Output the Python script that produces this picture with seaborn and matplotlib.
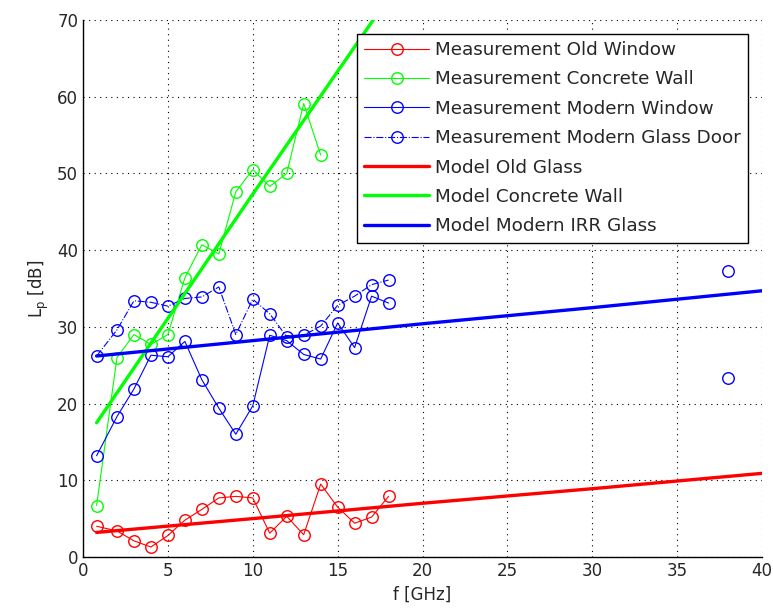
#!/usr/bin/env python3

import numpy as np
import pandas as pd
import matplotlib
matplotlib.use("Agg")
import matplotlib.pyplot as plt
import seaborn as sns

# Measured frequencies [GHz]
freq = [0.8, 2, 3, 4, 5, 6, 7, 8, 9, 10, 11, 12, 13, 14, 15, 16, 17, 18]

old_window = [4.0, 3.4, 2.1, 1.3, 2.8, 4.8, 6.2, 7.7, 7.9, 7.7, 3.1, 5.3, 2.9, 9.5,
              6.5, 4.4, 5.2, 7.9]
concrete_wall = [6.7, 26.0, 29.0, 27.7, 29.0, 36.4, 40.7, 39.5, 47.6, 50.5, 48.3,
                 50.0, 59.1, 52.4]
modern_window = [13.2, 18.3, 21.9, 26.3, 26.1, 28.1, 23.1, 19.4, 16.0, 19.7, 28.9,
                 28.2, 26.4, 25.8, 30.5, 27.3, 34.0, 33.1]
glass_door = [26.2, 29.6, 33.4, 33.2, 32.7, 33.7, 33.9, 35.2, 29.0, 33.6, 31.7,
              28.7, 28.9, 30.1, 32.8, 34.0, 35.5, 36.1]

# Isolated measurements at 38 GHz
freq_38 = [38]
modern_window_38 = [23.3]
glass_door_38 = [37.3]

# Model curves
freq_model = [0.8, 10, 20, 30, 40]
model_old = [3.2, 5.0, 7.0, 8.9, 10.9]
model_concrete = [17.5, 47.3, 79.3, 111.3, 143.3]
model_irr = [26.2, 28.2, 30.4, 32.5, 34.7]

RED, GREEN, BLUE = (1, 0, 0), (0, 1, 0), (0, 0, 1)


def meas_style(color):
    """Open-circle marker style used for the measurement series"""
    return dict(color=color, marker="o", markerfacecolor="none",
                markeredgecolor=color, markersize=8.3, markeredgewidth=1.0,
                linewidth=0.8)


def main():
    sns.set_style("white")
    plt.rcParams["font.family"] = ["DejaVu Sans"]
    plt.rcParams["text.color"] = "#262626"
    plt.rcParams["axes.labelcolor"] = "#262626"

    fig = plt.figure(figsize=(7.73, 6.13), dpi=100)
    ax = fig.add_axes([0.1074, 0.0914, 0.8784, 0.8760])

    sns.lineplot(x=freq, y=old_window, label="Measurement Old Window",
                 ax=ax, **meas_style(RED))
    sns.lineplot(x=freq[:len(concrete_wall)], y=concrete_wall,
                 label="Measurement Concrete Wall", ax=ax, **meas_style(GREEN))
    sns.lineplot(x=freq, y=modern_window, label="Measurement Modern Window",
                 ax=ax, **meas_style(BLUE))
    sns.lineplot(x=freq, y=glass_door, linestyle="-.",
                 label="Measurement Modern Glass Door", ax=ax, **meas_style(BLUE))
    sns.lineplot(x=freq_38, y=modern_window_38, label="_nolegend_",
                 ax=ax, **meas_style(BLUE))
    sns.lineplot(x=freq_38, y=glass_door_38, label="_nolegend_",
                 ax=ax, **meas_style(BLUE))

    sns.lineplot(x=freq_model, y=model_old, color=RED, linewidth=2.4,
                 label="Model Old Glass", ax=ax)
    sns.lineplot(x=freq_model, y=model_concrete, color=GREEN, linewidth=2.4,
                 label="Model Concrete Wall", ax=ax)
    sns.lineplot(x=freq_model, y=model_irr, color=BLUE, linewidth=2.4,
                 label="Model Modern IRR Glass", ax=ax)

    ax.set_xlim(0, 40)
    ax.set_ylim(0, 70)
    ax.set_xticks(np.arange(0, 41, 5))
    ax.set_yticks(np.arange(0, 71, 10))
    ax.grid(True, color="black", linestyle=(0, (1, 4)), linewidth=0.8)
    ax.tick_params(direction="in", length=4, labelsize=12, colors="black",
                   labelcolor="#262626")
    for side in ["top", "right"]:
        ax.spines[side].set_visible(False)
    for side in ["left", "bottom"]:
        ax.spines[side].set_color("black")
        ax.spines[side].set_linewidth(1.0)

    ax.set_xlabel("f [GHz]", fontsize=12)
    ax.set_ylabel("L$_\\mathregular{p}$ [dB]", fontsize=12)

    leg = ax.legend(loc="upper right", fontsize=13.2, handlelength=3.5,
                    labelspacing=0.62, borderaxespad=0.75, fancybox=False,
                    framealpha=1, edgecolor="black", handletextpad=0.35,
                    borderpad=0.4)
    leg.get_frame().set_linewidth(1.0)

    fig.savefig("out.png", dpi=100)
    plt.close(fig)


if __name__ == "__main__":
    main()
